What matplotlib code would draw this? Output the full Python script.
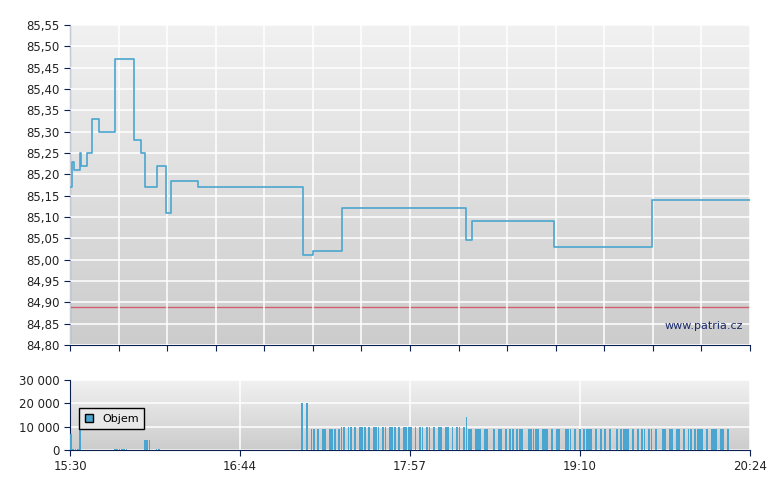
import matplotlib
matplotlib.use("Agg")
import matplotlib.pyplot as plt
import numpy as np
from matplotlib.colors import LinearSegmentedColormap

# price steps: minutes after 15:30, price
price_t = [0, 0.9, 1.7, 4.3, 4.8, 7.4, 9.5, 12.5, 19.5, 27.7, 30.7, 32.4, 37.6, 41.5, 43.7, 55.3, 100.7, 105.1, 117.6, 171.2, 173.8, 209.3, 251.7, 294]
price_v = [85.17, 85.23, 85.21, 85.25, 85.22, 85.25, 85.33, 85.30, 85.47, 85.28, 85.25, 85.17, 85.22, 85.11, 85.185, 85.17, 85.01, 85.02, 85.12, 85.045, 85.09, 85.03, 85.14, 85.14]
ref_price = 84.89

# volume: minute offsets and volumes
vol_t_early = [0, 1, 2, 3, 4, 19, 20, 21, 22, 23, 24, 32, 33, 34, 37, 38]
vol_v_early = [7000, 500, 500, 500, 13000, 500, 500, 500, 500, 500, 500, 4500, 4500, 4500, 500, 500]
vol_dense = (
    [20000, 0, 20000, 0, 9000, 9000, 0, 9000, 0, 9000, 9000, 0, 9000, 9000, 9000, 0, 9000,
     10000, 10000, 0, 10000, 10000, 0, 10000, 0, 10000, 10000, 10000, 0, 10000, 0, 10000, 10000,
     10000, 0, 10000, 10000, 0, 10000, 10000, 10000, 0, 10000, 0, 10000, 10000, 10000, 10000, 0,
     10000, 0, 10000, 10000, 0, 10000, 10000, 0, 10000, 0, 10000, 10000, 0, 10000, 10000, 0,
     10000, 0, 10000, 10000, 0, 10000, 14000, 9000, 9000, 0, 9000, 9000, 9000, 0, 9000, 9000,
     0, 0, 9000, 0, 9000, 9000, 0, 9000, 0, 9000, 9000, 0, 9000, 9000, 9000, 0, 0, 9000, 9000,
     9000, 9000, 9000, 0, 9000, 9000, 9000, 0, 9000, 0, 9000, 9000, 0, 0, 9000, 9000, 9000, 0,
     9000, 0, 9000, 0, 9000, 9000, 9000, 9000, 0, 9000, 0, 9000, 0, 9000, 0, 9000, 0, 0,
     9000, 0, 9000, 9000, 9000, 9000, 0, 9000, 0, 9000, 0, 9000, 9000, 0, 9000, 9000, 0, 9000,
     0, 0, 9000, 9000, 0, 9000, 9000, 0, 9000, 9000, 0, 9000, 0, 9000, 9000, 0, 9000, 9000, 9000,
     9000, 0, 9000, 0, 9000, 9000, 9000, 0, 9000, 9000, 0, 9000])
vol_dense_start = 100

tick_pos = [0, 73.5, 147, 220.5, 294]
tick_lab = ["15:30", "16:44", "17:57", "19:10", "20:24"]

navy = "#0a2050"
line_col = "#4aa6d0"
fig = plt.figure(figsize=(7.8, 4.9), dpi=100)
ax = fig.add_axes([70/780, 1-345/490, 680/780, 320/490])
ax2 = fig.add_axes([70/780, 1-450/490, 680/780, 70/490])

cmap = LinearSegmentedColormap.from_list("g", ["#cccccc", "#f1f1f1"])
grad = np.linspace(0, 1, 256).reshape(-1, 1)
for a in (ax, ax2):
    a.imshow(grad, aspect="auto", cmap=cmap, origin="lower",
             extent=[0, 294, 0, 1], transform=a.transAxes, zorder=0)
    for s in ("top", "right"):
        a.spines[s].set_visible(False)
    for s in ("left", "bottom"):
        a.spines[s].set_color(navy)
    a.tick_params(colors=navy, labelcolor="#222222", labelsize=8.5, length=4, direction="out")

ax.set_xlim(0, 294)
ax.set_ylim(84.80, 85.55)
yt = np.round(np.arange(84.80, 85.551, 0.05), 2)
ax.set_yticks(yt)
ax.set_yticklabels([f"{v:.2f}".replace(".", ",") for v in yt])
ax.set_xticks(np.arange(0, 294.1, 21))
ax.set_xticklabels([])
ax.grid(True, color="white", lw=1.1, zorder=1)
ax.set_axisbelow(False)
ax.step(price_t, price_v, where="post", color=line_col, lw=1.2, zorder=3)
ax.axhline(ref_price, color="#d06070", lw=1, zorder=2)
ax.text(0.99, 0.06, "www.patria.cz", transform=ax.transAxes, ha="right", va="center",
        fontsize=8, color="#1a2a6a", zorder=4)
for a in (ax,):
    a.images[0].set_extent([0, 294, 84.80, 85.55]); a.images[0].set_transform(a.transData)

ax2.set_xlim(0, 294)
ax2.set_ylim(0, 30000)
ax2.set_yticks([0, 10000, 20000, 30000])
ax2.set_yticklabels(["0", "10 000", "20 000", "30 000"])
ax2.set_xticks(tick_pos)
ax2.set_xticklabels(tick_lab)
ax2.grid(True, color="white", lw=1.1, zorder=1)
ax2.images[0].set_extent([0, 294, 0, 30000]); ax2.images[0].set_transform(ax2.transData)
vt = list(vol_t_early) + [vol_dense_start + i for i in range(len(vol_dense))]
vv = list(vol_v_early) + vol_dense
ax2.bar(vt, vv, width=0.8, align="edge", color=line_col, zorder=3)
leg = ax2.legend([plt.Rectangle((0, 0), 1, 1, fc=line_col, ec="black")], ["Objem"],
                 loc="upper left", bbox_to_anchor=(0.005, 0.68), fontsize=8,
                 fancybox=False, framealpha=1, facecolor="#e8e8e8", edgecolor="black",
                 handlelength=0.8, handleheight=0.8, borderpad=0.5)
leg.get_frame().set_linewidth(1)
leg.set_zorder(5)
fig.savefig("out.png", dpi=100, facecolor="white")
